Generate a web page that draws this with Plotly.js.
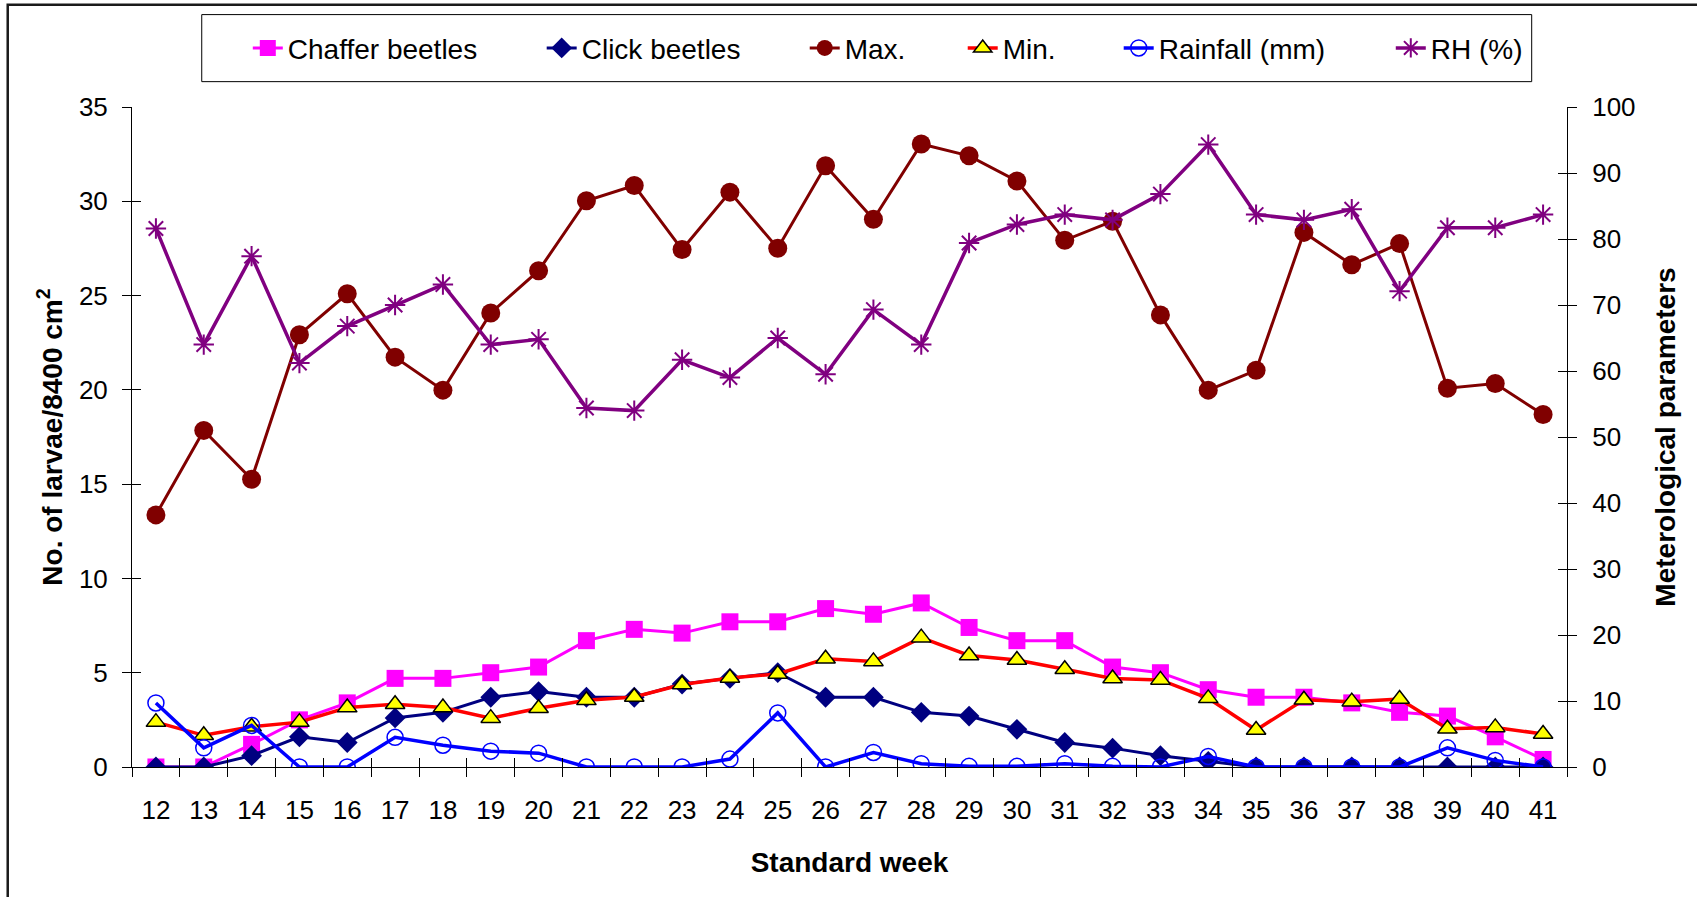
<!DOCTYPE html>
<html>
<head>
<meta charset="utf-8">
<script src="https://cdn.plot.ly/plotly-3.0.1.min.js"></script>
<style>
  html, body { margin: 0; padding: 0; background: #ffffff; }
  #chart { width: 1697px; height: 897px; }
</style>
</head>
<body>
<div id="chart"></div>
<script>
// ---- data ----
const weeks = ['12','13','14','15','16','17','18','19','20','21','22','23','24','25','26',
               '27','28','29','30','31','32','33','34','35','36','37','38','39','40','41'];

// left axis: No. of larvae / 8400 cm2
const chafferBeetles = [0, 0, 1.2, 2.5, 3.4, 4.7, 4.7, 5.0, 5.3, 6.7, 7.3, 7.1, 7.7, 7.7, 8.4,
                        8.1, 8.7, 7.4, 6.7, 6.7, 5.3, 5.0, 4.1, 3.7, 3.7, 3.4, 2.9, 2.7, 1.6, 0.4];
const clickBeetles   = [0, 0, 0.6, 1.6, 1.3, 2.6, 2.9, 3.7, 4.0, 3.7, 3.7, 4.4, 4.7, 5.0, 3.7,
                        3.7, 2.9, 2.7, 2.0, 1.3, 1.0, 0.6, 0.3, 0, 0, 0, 0, 0, 0, 0];

// right axis: meteorological parameters
const maxTemp  = [38.2, 51.0, 43.6, 65.5, 71.7, 62.1, 57.1, 68.8, 75.2, 85.8, 88.1, 78.4, 87.1, 78.6, 91.1,
                  83.0, 94.4, 92.6, 88.8, 79.8, 82.7, 68.5, 57.1, 60.1, 81.0, 76.1, 79.3, 57.4, 58.1, 53.4];
const minTemp  = [6.8, 4.8, 6.1, 6.8, 9.0, 9.5, 9.0, 7.4, 8.9, 10.1, 10.6, 12.5, 13.5, 14.1, 16.4,
                  16.0, 19.6, 16.9, 16.2, 14.8, 13.4, 13.2, 10.4, 5.6, 10.2, 9.9, 10.3, 5.8, 6.0, 5.0];
const rainfall = [9.7, 2.9, 6.3, 0, 0, 4.5, 3.3, 2.4, 2.1, 0, 0, 0, 1.2, 8.2, 0,
                  2.2, 0.5, 0.1, 0.1, 0.5, 0.1, 0, 1.6, 0, 0, 0, 0, 2.9, 1.0, 0];
const rh       = [81.6, 64.0, 77.4, 61.2, 66.8, 70.0, 73.1, 64.0, 64.8, 54.4, 54.0, 61.7, 59.0, 65.0, 59.5,
                  69.3, 64.0, 79.4, 82.2, 83.7, 82.9, 86.8, 94.3, 83.7, 82.9, 84.5, 72.1, 81.7, 81.7, 83.7];

const leftTicks  = [0, 5, 10, 15, 20, 25, 30, 35];
const rightTicks = [0, 10, 20, 30, 40, 50, 60, 70, 80, 90, 100];

const FONT = 'Liberation Sans, Arial, Helvetica, sans-serif';

const traces = [
  { name: 'Chaffer beetles', legend: 'legend', x: weeks, y: chafferBeetles, xaxis: 'x', yaxis: 'y', mode: 'lines+markers',
    line: { color: '#FF00FF', width: 3 },
    marker: { symbol: 'square', size: 17, color: '#FF00FF' } },
  { name: 'Click beetles', legend: 'legend2', x: weeks, y: clickBeetles, xaxis: 'x', yaxis: 'y', mode: 'lines+markers',
    line: { color: '#000080', width: 3 },
    marker: { symbol: 'diamond', size: 16, color: '#000080' } },
  { name: 'Max.', legend: 'legend3', x: weeks, y: maxTemp, xaxis: 'x', yaxis: 'y2', mode: 'lines+markers',
    line: { color: '#800000', width: 3 },
    marker: { symbol: 'circle', size: 19, color: '#800000' } },
  { name: 'Min.', legend: 'legend4', x: weeks, y: minTemp, xaxis: 'x', yaxis: 'y2', mode: 'lines+markers',
    line: { color: '#FF0000', width: 3.5 },
    marker: { symbol: 'triangle-up', size: 17, color: '#FFFF00', line: { color: '#000000', width: 1.5 } } },
  { name: 'Rainfall (mm)', legend: 'legend5', x: weeks, y: rainfall, xaxis: 'x', yaxis: 'y2', mode: 'lines+markers',
    line: { color: '#0000FF', width: 3.5 },
    marker: { symbol: 'circle-open', size: 16, color: '#0000FF', line: { color: '#0000FF', width: 1.5 } } },
  { name: 'RH (%)', legend: 'legend6', x: weeks, y: rh, xaxis: 'x', yaxis: 'y2', mode: 'lines+markers',
    line: { color: '#800080', width: 3.5 },
    marker: { symbol: 'asterisk-open', size: 17, color: '#800080', line: { color: '#800080', width: 2 } } },
  // empty helper traces that carry the inner halves of the crossing tick marks
  { x: weeks, y: weeks.map(() => null), xaxis: 'x2', yaxis: 'y3', mode: 'lines',
    showlegend: false, hoverinfo: 'skip' },
  { x: weeks, y: weeks.map(() => null), xaxis: 'x2', yaxis: 'y4', mode: 'lines',
    showlegend: false, hoverinfo: 'skip' }
];

const tickFont = { family: FONT, size: 26, color: '#000000' };
const titleFont = { family: FONT, size: 28, color: '#000000', weight: 'bold' };
const legendFont = { family: FONT, size: 28, color: '#000000' };

function legendAt(xPaper) {
  return {
    orientation: 'h', x: xPaper, y: 1.089, xanchor: 'left', yanchor: 'middle',
    font: legendFont, bgcolor: 'rgba(0,0,0,0)', borderwidth: 0
  };
}

const layout = {
  width: 1697, height: 897,
  paper_bgcolor: '#ffffff', plot_bgcolor: 'rgba(0,0,0,0)',
  margin: { l: 132, r: 130, t: 107, b: 130, pad: 0 },
  font: { family: FONT, color: '#000000' },
  showlegend: true,
  legend:  legendAt(0.0807),
  legend2: legendAt(0.2855),
  legend3: legendAt(0.4688),
  legend4: legendAt(0.5789),
  legend5: legendAt(0.6876),
  legend6: legendAt(0.8772),
  xaxis: {
    type: 'category', categoryorder: 'array', categoryarray: weeks, range: [-0.5, 29.5],
    tickson: 'boundaries', ticks: 'outside', ticklen: 9, tickwidth: 1, tickcolor: '#000000',
    showline: true, linecolor: '#000000', linewidth: 1, showgrid: false, zeroline: false,
    tickfont: tickFont, ticklabelstandoff: 20,
    title: { text: 'Standard week', font: titleFont, standoff: 28 },
    automargin: false
  },
  xaxis2: {
    type: 'category', categoryorder: 'array', categoryarray: weeks, range: [-0.5, 29.5],
    overlaying: 'x', anchor: 'y', tickson: 'boundaries', ticks: 'inside', ticklen: 9, tickwidth: 1,
    tickcolor: '#000000', showticklabels: false, showline: false, showgrid: false, zeroline: false
  },
  yaxis: {
    range: [0, 35], tickvals: leftTicks, ticks: 'outside', ticklen: 9, tickwidth: 1, tickcolor: '#000000',
    showline: true, linecolor: '#000000', linewidth: 1, showgrid: false, zeroline: false,
    tickfont: tickFont, ticklabelstandoff: 9,
    title: { text: 'No. of larvae/8400 cm<sup>2</sup>', font: titleFont, standoff: 8 },
    automargin: false
  },
  yaxis2: {
    range: [0, 100], tickvals: rightTicks, overlaying: 'y', side: 'right', anchor: 'x',
    ticks: 'outside', ticklen: 9, tickwidth: 1, tickcolor: '#000000',
    showline: true, linecolor: '#000000', linewidth: 1, showgrid: false, zeroline: false,
    tickfont: tickFont, ticklabelstandoff: 10,
    title: { text: 'Meterological parameters', font: titleFont, standoff: 20 },
    automargin: false
  },
  yaxis3: {
    range: [0, 35], tickvals: leftTicks, overlaying: 'y', side: 'left', anchor: 'x2',
    ticks: 'inside', ticklen: 9, tickwidth: 1, tickcolor: '#000000',
    showticklabels: false, showline: false, showgrid: false, zeroline: false
  },
  yaxis4: {
    range: [0, 100], tickvals: rightTicks, overlaying: 'y', side: 'right', anchor: 'x2',
    ticks: 'inside', ticklen: 9, tickwidth: 1, tickcolor: '#000000',
    showticklabels: false, showline: false, showgrid: false, zeroline: false
  },
  shapes: [
    // legend frame
    { type: 'rect', xref: 'paper', yref: 'paper', x0: 0.0486, x1: 0.9754, y0: 1.0384, y1: 1.1400,
      line: { color: '#000000', width: 1 }, fillcolor: 'rgba(0,0,0,0)', layer: 'below' },
    // outer chart frame (runs off the right and bottom edges as in the reference)
    { type: 'rect', xref: 'paper', yref: 'paper', x0: -0.0866, x1: 1.12, y0: -0.25, y1: 1.1551,
      line: { color: '#1a1a1a', width: 2.5 }, fillcolor: 'rgba(0,0,0,0)', layer: 'below' }
  ]
};

Plotly.newPlot('chart', traces, layout, { displayModeBar: false, staticPlot: true });
</script>
</body>
</html>
